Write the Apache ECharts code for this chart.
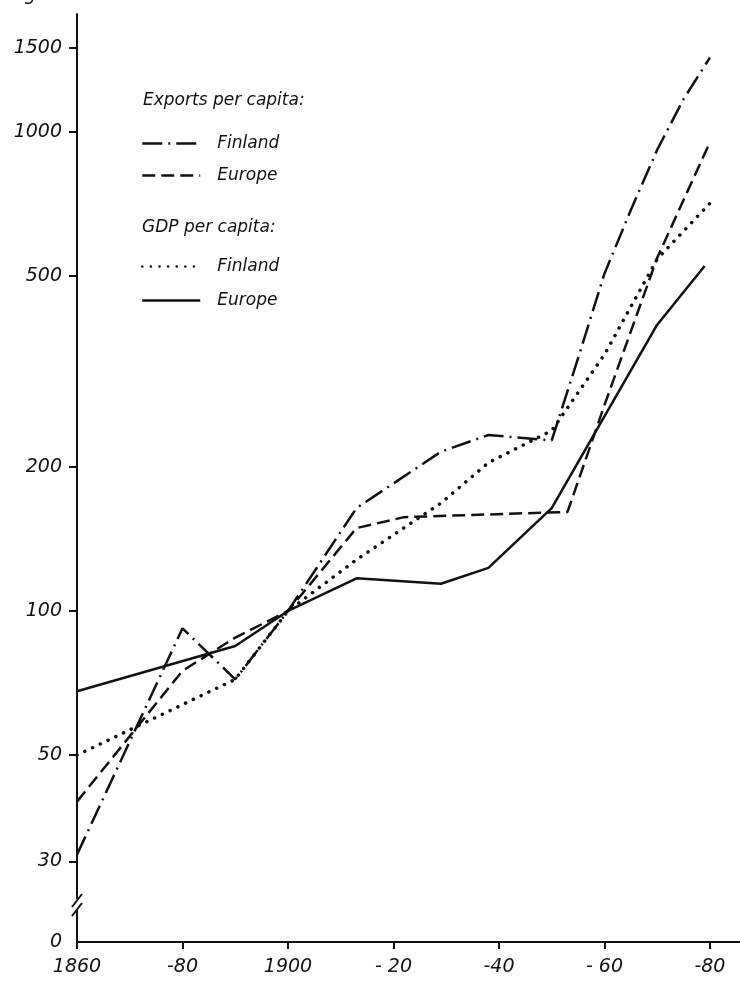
<!DOCTYPE html>
<html>
<head>
<meta charset="utf-8">
<script src="https://cdn.jsdelivr.net/npm/echarts@6/dist/echarts.min.js"></script>
<style>
  html, body { margin: 0; padding: 0; background: #fff; }
  #chart { width: 740px; height: 982px; }
</style>
</head>
<body>
<div id="chart"></div>
<script>
// exports per capita, Finland (index 1900 = 100)
const finExpYears = [1860, 1880, 1890, 1900, 1913, 1929, 1938, 1950, 1955, 1960, 1965, 1970, 1975, 1980]
const finExp = [31, 92, 72, 100, 164, 215, 233, 227, 337, 506, 687, 918, 1171, 1430]
// exports per capita, Europe
const eurExpYears = [1860, 1880, 1890, 1900, 1913, 1922, 1953, 1960, 1970, 1980]
const eurExp = [40, 75, 88, 100, 149, 157, 161, 269, 546, 952]
// GDP per capita, Finland
const finGdpYears = [1860, 1890, 1900, 1913, 1929, 1938, 1950, 1960, 1970, 1980]
const finGdp = [50, 72, 100, 128, 168, 204, 238, 343, 543, 710]
// GDP per capita, Europe
const eurGdpYears = [1860, 1890, 1900, 1913, 1929, 1938, 1950, 1970, 1979]
const eurGdp = [68, 84.5, 100, 117, 114, 123, 164, 396, 525]

const yTicks = [30, 50, 100, 200, 500, 1000, 1500]
const yBottom = 20.37 // bottom of the broken axis, labelled "0"
const xTicks = [1860, 1880, 1900, 1920, 1940, 1960, 1980]
const xTickLabels = ['1860', '-80', '1900', '- 20', '-40', '- 60', '-80']

const FONT = 'DejaVu Sans'
const INK = '#111'

const pairs = (xs, ys) => xs.map((x, i) => [x, ys[i]])

const chart = echarts.init(document.getElementById('chart'))

const lineSeries = (name, xs, ys, style) => ({
  name: name,
  type: 'line',
  data: pairs(xs, ys),
  symbol: 'none',
  lineStyle: Object.assign({ color: INK }, style),
  itemStyle: { color: INK },
  z: 3
})

const legendText = { color: INK, fontFamily: FONT, fontStyle: 'italic', fontSize: 17, padding: [0, 0, 0, 12] }

chart.setOption({
  animation: false,
  backgroundColor: '#fff',
  grid: { left: 77, right: 0, top: 14, bottom: 40 },
  xAxis: {
    type: 'value',
    min: 1860,
    max: 1985.7,
    splitLine: { show: false },
    axisLine: { lineStyle: { color: INK, width: 2 } },
    axisTick: { customValues: xTicks, length: 7, lineStyle: { color: INK, width: 2 } },
    axisLabel: {
      customValues: xTicks,
      margin: 16,
      color: INK,
      fontFamily: FONT,
      fontStyle: 'italic',
      fontSize: 19,
      formatter: v => xTickLabels[xTicks.indexOf(Math.round(v))] || ''
    }
  },
  yAxis: {
    type: 'log',
    min: yBottom,
    max: 1763,
    splitLine: { show: false },
    axisLine: { show: true, lineStyle: { color: INK, width: 2 } },
    axisTick: { customValues: yTicks, length: 8, lineStyle: { color: INK, width: 2 } },
    axisLabel: {
      customValues: [yBottom].concat(yTicks),
      margin: 15,
      color: INK,
      fontFamily: FONT,
      fontStyle: 'italic',
      fontSize: 19,
      formatter: v => (v < 25 ? '0' : String(Math.round(v)))
    }
  },
  legend: [
    {
      orient: 'vertical',
      left: 141,
      top: 135,
      padding: 0,
      itemWidth: 58,
      itemHeight: 20,
      itemGap: 15,
      itemStyle: { opacity: 0 },
      lineStyle: { width: 2.5 },
      data: ['Exports Finland', 'Exports Europe'],
      formatter: n => n.split(' ')[1],
      textStyle: legendText
    },
    {
      orient: 'vertical',
      left: 141,
      top: 258,
      padding: 0,
      itemWidth: 58,
      itemHeight: 20,
      itemGap: 17,
      itemStyle: { opacity: 0 },
      lineStyle: { width: 2.5 },
      data: ['GDP Finland', 'GDP Europe'],
      formatter: n => n.split(' ')[1],
      textStyle: legendText
    }
  ],
  graphic: [
    { type: 'text', left: 2, top: -14, style: { text: 'Log scale', fill: INK, font: 'italic 19px "DejaVu Sans"' } },
    { type: 'text', left: 143, top: 92, style: { text: 'Exports per capita:', fill: INK, font: 'italic 17px "DejaVu Sans"' } },
    { type: 'text', left: 142, top: 219, style: { text: 'GDP per capita:', fill: INK, font: 'italic 17px "DejaVu Sans"' } },
    // axis break marks
    { type: 'rect', shape: { x: 73, y: 899, width: 8, height: 11 }, style: { fill: '#fff' }, z: 10 },
    { type: 'line', shape: { x1: 72, y1: 907, x2: 82, y2: 894 }, style: { stroke: INK, lineWidth: 2 }, z: 11 },
    { type: 'line', shape: { x1: 72, y1: 916, x2: 82, y2: 903 }, style: { stroke: INK, lineWidth: 2 }, z: 11 }
  ],
  series: [
    lineSeries('Exports Finland', finExpYears, finExp, { width: 2.5, type: [20, 6, 2, 6] }),
    lineSeries('Exports Europe', eurExpYears, eurExp, { width: 2.5, type: [13, 6] }),
    lineSeries('GDP Finland', finGdpYears, finGdp, { width: 3.5, type: [0.1, 8.5], cap: 'round' }),
    lineSeries('GDP Europe', eurGdpYears, eurGdp, { width: 2.5 })
  ]
})
</script>
</body>
</html>
